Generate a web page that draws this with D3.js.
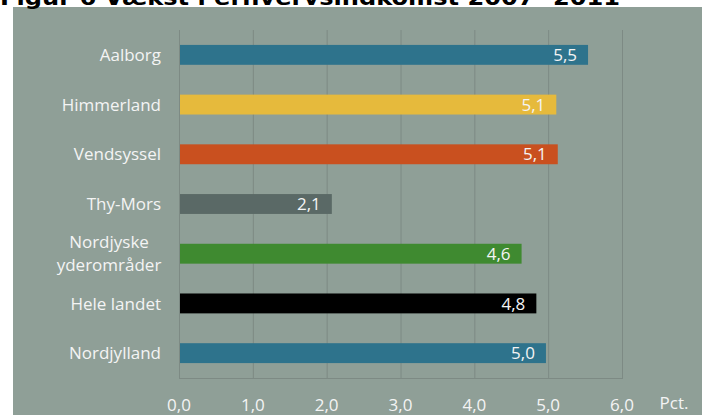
<!DOCTYPE html>
<html>
<head>
<meta charset="utf-8">
<script src="https://cdn.jsdelivr.net/npm/d3@7"></script>
<style>
  body { margin: 0; background: #fff; }
  svg { display: block; }
</style>
</head>
<body>
<div id="chart"></div>
<script>
// Data
const regions = ["Aalborg", "Himmerland", "Vendsyssel", "Thy-Mors", "Nordjyske\nyderområder", "Hele landet", "Nordjylland"];
const growth = [5.54, 5.11, 5.13, 2.07, 4.64, 4.84, 4.97];
const barColors = ["#2e738c", "#e6ba3c", "#c9501f", "#5a6966", "#3f8a30", "#000000", "#2e738c"];
const xTicks = [0, 1, 2, 3, 4, 5, 6];
const title = "Figur 6 Vækst i erhvervsindkomst 2007- 2011";
const unitLabel = "Pct.";

const w = 702, h = 415;
const mg = { top: 30, right: 80, bottom: 37, left: 179 };
const font = "'Open Sans', 'Noto Sans', sans-serif";
const fs = 17;
const comma = (v) => d3.format(".1f")(v).replace(".", ",");

const svg = d3.select("#chart").append("svg")
  .attr("width", w)
  .attr("height", h);

// Panel background
svg.append("rect")
  .attr("x", 13).attr("y", 7)
  .attr("width", w - 13).attr("height", h - 7)
  .attr("fill", "#8f9f97");

// Title, cut off at the top as in the source
svg.append("text")
  .attr("x", 0).attr("y", 5)
  .attr("font-family", "'DejaVu Sans', sans-serif")
  .attr("font-weight", "bold")
  .attr("font-size", 22)
  .attr("textLength", 620)
  .attr("lengthAdjust", "spacingAndGlyphs")
  .attr("fill", "#000")
  .text(title);

const x = d3.scaleLinear()
  .domain([0, 6])
  .range([mg.left, 622]);

const y = d3.scaleBand()
  .domain(d3.range(regions.length))
  .range([mg.top, h - mg.bottom])
  .paddingInner(0.6)
  .paddingOuter(0.3);

// Gridlines
svg.append("g")
  .selectAll("line")
  .data(xTicks)
  .join("line")
  .attr("x1", (d) => x(d) + 0.5)
  .attr("x2", (d) => x(d) + 0.5)
  .attr("y1", mg.top)
  .attr("y2", h - mg.bottom)
  .attr("stroke", "#7d8a84")
  .attr("stroke-width", 1);

// Bottom axis line
svg.append("line")
  .attr("x1", x(0)).attr("x2", x(6) + 1)
  .attr("y1", h - mg.bottom + 0.5).attr("y2", h - mg.bottom + 0.5)
  .attr("stroke", "#7d8a84");

// Bars
svg.append("g")
  .selectAll("rect")
  .data(growth)
  .join("rect")
  .attr("x", x(0) + 1)
  .attr("y", (d, i) => y(i))
  .attr("width", (d) => x(d) - x(0) - 1)
  .attr("height", y.bandwidth())
  .attr("fill", (d, i) => barColors[i]);

// Value labels inside bar ends
svg.append("g")
  .selectAll("text")
  .data(growth)
  .join("text")
  .attr("x", (d) => x(d) - 11)
  .attr("y", (d, i) => y(i) + y.bandwidth() / 2)
  .attr("dy", "0.36em")
  .attr("text-anchor", "end")
  .attr("font-family", font)
  .attr("font-size", fs)
  .attr("fill", "#f4f4f4")
  .text((d) => comma(d));

// Category labels
const cat = svg.append("g")
  .selectAll("text")
  .data(regions)
  .join("text")
  .attr("font-family", font)
  .attr("font-size", fs)
  .attr("fill", "#f4f4f4")
  .attr("text-anchor", (d) => d.includes("\n") ? "middle" : "end")
  .attr("transform", (d, i) => {
    let lines = d.split("\n");
    let cy = y(i) + y.bandwidth() / 2;
    return lines.length > 1 ? `translate(109,${cy})` : `translate(161,${cy})`;
  });

cat.each(function (d) {
  let lines = d.split("\n");
  let el = d3.select(this);
  lines.forEach((l, k) => {
    el.append("tspan")
      .attr("x", 0)
      .attr("y", (k - (lines.length - 1) / 2) * 23)
      .attr("dy", "0.36em")
      .text(l);
  });
});

// X tick labels
svg.append("g")
  .selectAll("text")
  .data(xTicks)
  .join("text")
  .attr("x", (d) => x(d))
  .attr("y", 405)
  .attr("dy", "0.36em")
  .attr("text-anchor", "middle")
  .attr("font-family", font)
  .attr("font-size", fs)
  .attr("fill", "#f4f4f4")
  .text((d) => comma(d));

svg.append("text")
  .attr("x", 674)
  .attr("y", 403)
  .attr("dy", "0.36em")
  .attr("text-anchor", "middle")
  .attr("font-family", font)
  .attr("font-size", fs)
  .attr("fill", "#f4f4f4")
  .text(unitLabel);
</script>
</body>
</html>
